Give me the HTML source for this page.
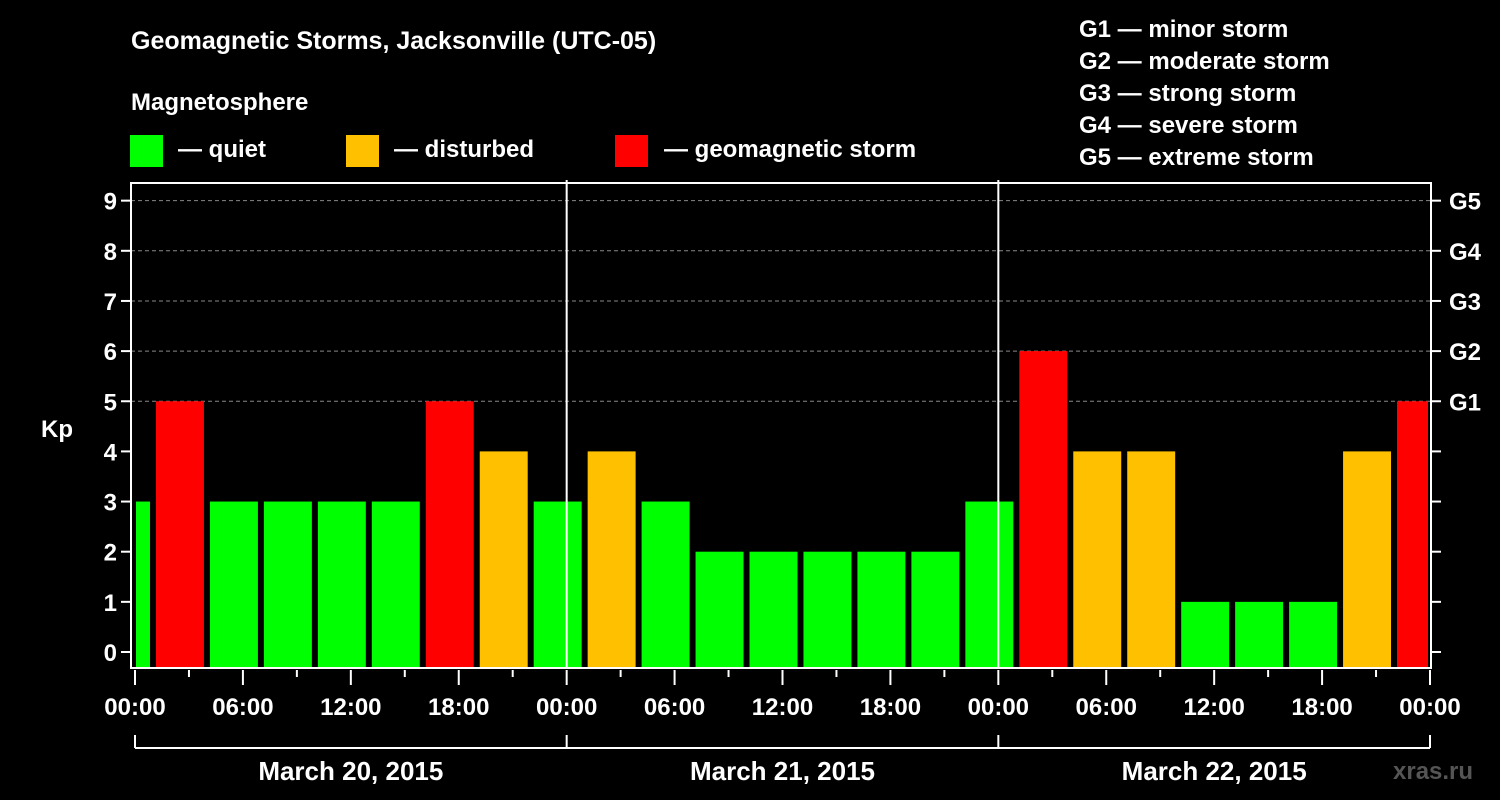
<!DOCTYPE html>
<html><head><meta charset="utf-8"><style>
html,body{margin:0;padding:0;background:#000;width:1500px;height:800px;overflow:hidden}
svg text{font-family:"Liberation Sans",sans-serif;font-weight:bold;fill:#fff}
</style></head><body>
<svg id="chart" width="1500" height="800" xmlns="http://www.w3.org/2000/svg">
<text x="131" y="49" font-size="25">Geomagnetic Storms, Jacksonville (UTC-05)</text>
<text x="131" y="110" font-size="24">Magnetosphere</text>
<g><rect x="130" y="135" width="33" height="32" fill="#00ff00"/><text x="178" y="157" font-size="24">— quiet</text></g>
<g><rect x="346" y="135" width="33" height="32" fill="#ffc000"/><text x="394" y="157" font-size="24">— disturbed</text></g>
<g><rect x="615" y="135" width="33" height="32" fill="#ff0000"/><text x="664" y="157" font-size="24">— geomagnetic storm</text></g>
<g font-size="24">
<text x="1079" y="37">G1 — minor storm</text>
<text x="1079" y="69">G2 — moderate storm</text>
<text x="1079" y="101">G3 — strong storm</text>
<text x="1079" y="133">G4 — severe storm</text>
<text x="1079" y="165">G5 — extreme storm</text>
</g>
<text x="41" y="437" font-size="24">Kp</text>
<text x="1393" y="779" font-size="24" style="fill:#555">xras.ru</text>
<g id="grid"></g><g id="bars"></g><g id="axes"></g>
</svg>
<script>
const kpValues=[3,5,3,3,3,3,5,4,3,4,3,2,2,2,2,2,3,6,4,4,1,1,1,4,5];
const yTicks=[0,1,2,3,4,5,6,7,8,9];
const gLabels=["G1","G2","G3","G4","G5"];
const dayLabels=["March 20, 2015","March 21, 2015","March 22, 2015"];
const hourLabels=["00:00","06:00","12:00","18:00"];
const binStartHour=-2, binHours=3, totalHours=72;
const X0=135,X1=1430,PL=131,PR=1431,PT=183,PB=668;
const x=h=>X0+(X1-X0)*h/totalHours;
const y=v=>652-v*50.15;
const NS="http://www.w3.org/2000/svg";
function mk(p,t,a){const e=document.createElementNS(NS,t);for(const k in a)e.setAttribute(k,a[k]);document.getElementById(p).appendChild(e);return e;}
yTicks.forEach(v=>{if(v>=5){const l=mk('grid','line',{x1:PL,x2:PR,y1:y(v),y2:y(v),stroke:'#888','stroke-dasharray':'4,3','stroke-width':1});

}});
kpValues.forEach((v,i)=>{const h0=binStartHour+i*binHours;let a=x(h0)+3,b=x(h0+binHours)-3;a=Math.max(a,136);b=Math.min(b,1428);
const c=v>=5?'#ff0000':(v>=4?'#ffc000':'#00ff00');
const r=mk('bars','rect',{x:a,y:y(v),width:b-a,height:PB-y(v),fill:c});

});
mk('axes','rect',{x:PL,y:PT,width:PR-PL,height:PB-PT,fill:'none',stroke:'#fff','stroke-width':2});
[1,2].forEach(d=>{mk('axes','line',{x1:x(d*24),x2:x(d*24),y1:PT-3,y2:PB,stroke:'#fff','stroke-width':2});});
yTicks.forEach(v=>{mk('axes','line',{x1:PL-10,x2:PL,y1:y(v),y2:y(v),stroke:'#fff','stroke-width':2});
mk('axes','line',{x1:PR,x2:PR+10,y1:y(v),y2:y(v),stroke:'#fff','stroke-width':2});
const t=mk('axes','text',{x:PL-14,y:y(v)+9,'font-size':24,'text-anchor':'end'});t.textContent=v;

});
gLabels.forEach((g,i)=>{const t=mk('axes','text',{x:1449,y:y(5+i)+9,'font-size':24});t.textContent=g;

});
for(let h=0;h<=totalHours;h+=3){const major=h%6===0;
mk('axes','line',{x1:x(h),x2:x(h),y1:PB+2,y2:PB+(major?17:9),stroke:'#fff','stroke-width':2});
if(major){const t=mk('axes','text',{x:x(h),y:715,'font-size':24,'text-anchor':'middle'});t.textContent=h===totalHours?hourLabels[0]:hourLabels[(h%24)/6];

}}
mk('axes','line',{x1:x(0),x2:x(72),y1:748,y2:748,stroke:'#fff','stroke-width':2});
[0,24,48,72].forEach(h=>mk('axes','line',{x1:x(h),x2:x(h),y1:735,y2:748,stroke:'#fff','stroke-width':2}));
dayLabels.forEach((d,i)=>{const t=mk('axes','text',{x:x(i*24+12),y:780,'font-size':26,'text-anchor':'middle'});t.textContent=d;

});
</script>
</body></html>
